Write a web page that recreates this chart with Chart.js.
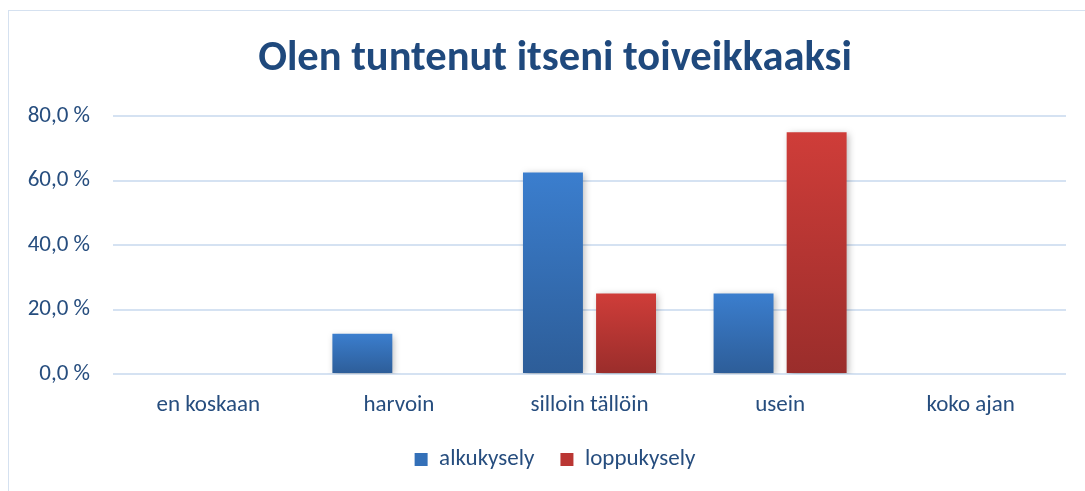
<!DOCTYPE html>
<html>
<head>
<meta charset="utf-8">
<script src="https://cdn.jsdelivr.net/npm/chart.js@4"></script>
<style>
  html, body { margin: 0; padding: 0; background: #fff; }
  #wrap { position: relative; width: 1085px; height: 491px; }
  #frame { position: absolute; left: 8px; top: 10px; right: -2px; bottom: -2px;
           border-left: 1px solid #d5e1f0; border-top: 1px solid #d5e1f0; }
  canvas { position: absolute; left: 0; top: 0; }
</style>
</head>
<body>
<div id="wrap">
  <div id="frame"></div>
  <canvas id="chart" width="1085" height="491"></canvas>
</div>
<script>
// Kategoriat ja sarjat
const categories = ['en koskaan', 'harvoin', 'silloin tällöin', 'usein', 'koko ajan'];
const alkukysely = [0, 12.5, 62.5, 25, 0];
const loppukysely = [0, 0, 25, 75, 0];
const yTicks = [0, 20, 40, 60, 80];
const yTickLabels = ['0,0 %', '20,0 %', '40,0 %', '60,0 %', '80,0 %'];

const textColor = '#264d7e';
const fontFamily = 'Carlito, Lato, "Open Sans", sans-serif';

// Liukuväri pylväälle omasta yläreunasta alareunaan
function barGradient(top, bottom) {
    return function (context) {
        const chart = context.chart;
        if (!chart.chartArea || context.raw === undefined) return top;
        const y = chart.scales.y;
        const y0 = y.getPixelForValue(context.raw);
        const y1 = y.getPixelForValue(0);
        if (y1 - y0 < 1) return top;
        const g = chart.ctx.createLinearGradient(0, y0, 0, y1);
        g.addColorStop(0, top);
        g.addColorStop(1, bottom);
        return g;
    };
}

// Varjo pylväiden alle
const shadowPlugin = {
    id: 'barShadow',
    beforeDatasetsDraw(chart) {
        const ctx = chart.ctx;
        ctx.save();
        ctx.shadowColor = 'rgba(0, 0, 0, 0.28)';
        ctx.shadowBlur = 7;
        ctx.shadowOffsetX = 2;
        ctx.shadowOffsetY = 2;
    },
    afterDatasetsDraw(chart) {
        chart.ctx.restore();
    }
};

// Otsikko ja selite keskitetään hieman oikealle, kuten alkuperäisessä
const centerPlugin = {
    id: 'shiftBoxes',
    afterLayout(chart) {
        if (chart.titleBlock) chart.titleBlock.left = 44;
        if (chart.legend) chart.legend.left = 44;
    }
};

const ctx = document.getElementById('chart').getContext('2d');
new Chart(ctx, {
    type: 'bar',
    data: {
        labels: categories,
        datasets: [{
            label: 'alkukysely',
            data: alkukysely,
            backgroundColor: barGradient('#3b7ece', '#2d5d98'),
            borderWidth: 0
        }, {
            label: 'loppukysely',
            data: loppukysely,
            backgroundColor: barGradient('#cf3d39', '#9a2d2b'),
            borderWidth: 0
        }]
    },
    options: {
        responsive: false,
        animation: false,
        devicePixelRatio: 1,
        barPercentage: 0.82,
        categoryPercentage: 0.767,
        layout: { padding: { left: 0, right: 19, top: 0, bottom: 10 } },
        plugins: {
            title: {
                display: true,
                text: 'Olen tuntenut itseni toiveikkaaksi',
                color: '#1f497d',
                font: { family: fontFamily, size: 42.5, weight: 'bold' },
                padding: { top: 34, bottom: 31 }
            },
            legend: {
                position: 'bottom',
                labels: {
                    color: textColor,
                    font: { family: fontFamily, size: 23 },
                    boxWidth: 13,
                    boxHeight: 13,
                    padding: 26,
                    generateLabels(chart) {
                        const items = Chart.defaults.plugins.legend.labels.generateLabels(chart);
                        const fills = ['#3470b8', '#ba3633'];
                        items.forEach((it, i) => { it.fillStyle = fills[i]; it.strokeStyle = fills[i]; it.lineWidth = 0; });
                        return items;
                    }
                }
            },
            tooltip: { enabled: false }
        },
        scales: {
            x: {
                grid: { display: false, drawTicks: false },
                border: { display: false },
                ticks: {
                    color: textColor,
                    font: { family: fontFamily, size: 23 },
                    padding: 17,
                    maxRotation: 0
                },
                afterFit(scale) { scale.height = 48; }
            },
            y: {
                min: 0,
                max: 80,
                afterBuildTicks(scale) { scale.ticks = yTicks.map(v => ({ value: v })); },
                grid: { color: '#d5e2f2', lineWidth: 2, drawTicks: false },
                border: { display: false },
                ticks: {
                    color: textColor,
                    font: { family: fontFamily, size: 23 },
                    padding: 23,
                    callback(value) {
                        const i = yTicks.indexOf(value);
                        return i >= 0 ? yTickLabels[i] : '';
                    }
                },
                afterFit(scale) { scale.width = 113; }
            }
        }
    },
    plugins: [shadowPlugin, centerPlugin]
});
</script>
</body>
</html>
